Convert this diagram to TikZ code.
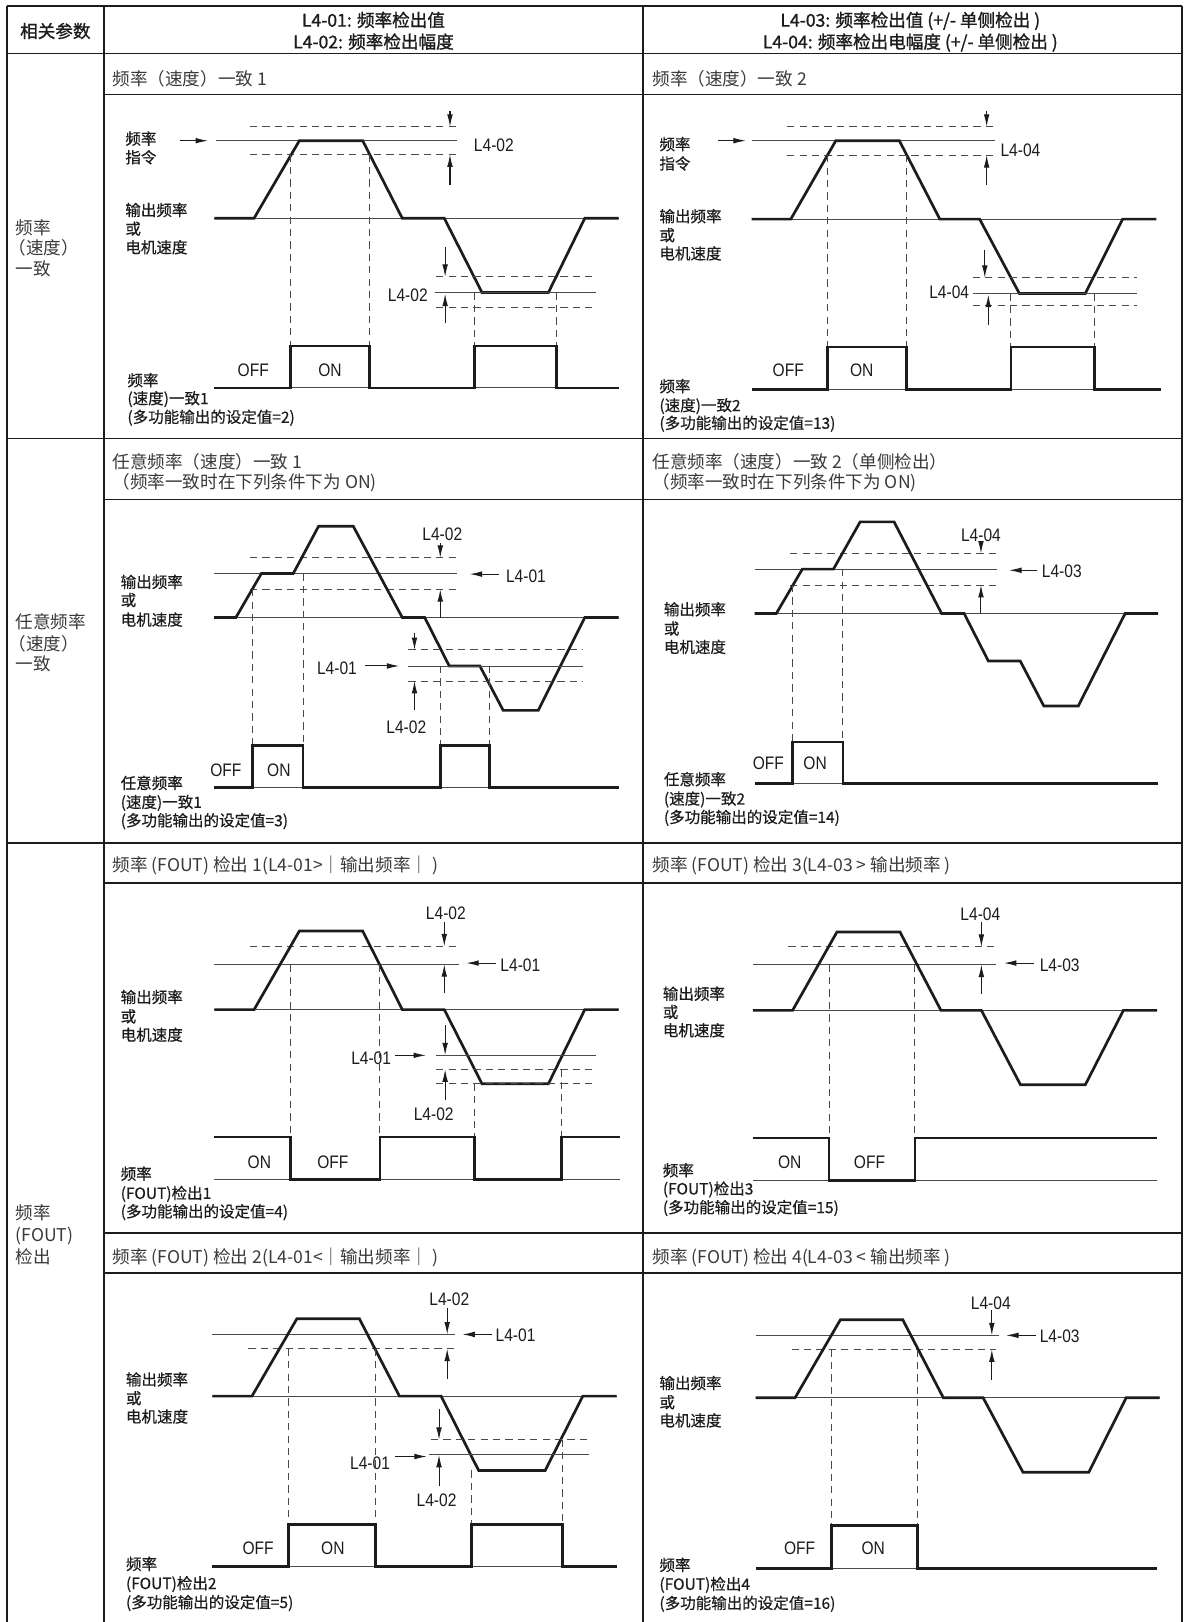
\documentclass[tikz,border=0pt]{standalone}
\usepackage{fontspec}
\setmainfont{Liberation Sans}
\newfontfamily\cjk{Noto Sans CJK SC}
\newfontfamily\cjkm[FakeBold=0.5]{Noto Sans CJK SC}
\newfontfamily\cjkb[FakeBold=1.2]{Noto Sans CJK SC}
\newfontfamily\latn[FakeStretch=0.86]{Liberation Sans}
\usetikzlibrary{arrows.meta}
\definecolor{ink}{HTML}{1C1C1C}
\definecolor{grayline}{HTML}{4A4A4A}
\definecolor{ttlgray}{HTML}{3A3A3A}
\tikzset{
  tbl/.style={line width=1.3pt, draw=ink},
  bord/.style={line width=2.2pt, draw=ink},
  trace/.style={line width=2.6pt, draw=ink, line join=miter},
  thinl/.style={line width=0.9pt, draw=grayline},
  dsh/.style={line width=0.9pt, draw=grayline, dash pattern=on 7pt off 5pt},
  arr/.style={-{Latex[length=12pt,width=5.5pt]}, line width=1pt, draw=ink},
  cl/.style={font={\cjkm\fontsize{15}{18}\selectfont}, inner sep=0pt, text height=11.4pt, text depth=0pt, text=ink, anchor=west},
  lt/.style={font={\latn\fontsize{17.5}{20}\selectfont}, inner sep=0pt, text height=12.5pt, text depth=0pt, text=ink},
  ttl/.style={font={\cjk\fontsize{17}{20}\selectfont}, inner sep=0pt, text height=12.9pt, text depth=0pt, text=ttlgray, anchor=west},
  hdr/.style={font={\cjkb\fontsize{17}{20}\selectfont}, inner sep=0pt, text height=12.9pt, text depth=0pt, text=ink}
}
\begin{document}
\begin{tikzpicture}[x=1pt,y=-1pt]
\fill[white] (0,0) rectangle (1144,1568);
\useasboundingbox (0,0) rectangle (1144,1568);
% ---------------- table ----------------
\draw[bord] (6.5,5.8) -- (6.5,1568);
\draw[bord] (1142.4,5.8) -- (1142.4,1568);
\draw[tbl] (6.5,5.8) -- (1142.4,5.8);
\draw[tbl] (100.6,5.8) -- (100.6,1568);
\draw[tbl] (621.6,5.8) -- (621.6,1568);
\draw[tbl] (6.5,51.6) -- (1142.4,51.6);
\draw[tbl] (6.5,423.9) -- (1142.4,423.9);
\draw[tbl] (6.5,815) -- (1142.4,815);
\draw[tbl] (100.6,91.2) -- (1142.4,91.2);
\draw[tbl] (100.6,482.6) -- (1142.4,482.6);
\draw[tbl] (100.6,853.6) -- (1142.4,853.6);
\draw[tbl] (100.6,1192) -- (1142.4,1192);
\draw[tbl] (100.6,1230.7) -- (1142.4,1230.7);
% header
\node[hdr] (h0) at (53.5,30) {相关参数};
\node[hdr] (h1a) at (361,19.3) {L4-01: 频率检出值};
\node[hdr] (h1b) at (361,40.3) {L4-02: 频率检出幅度};
\node[hdr] (h2a) at (880,19.3) {L4-03: 频率检出值 (+/- 单侧检出 )};
\node[hdr] (h2b) at (880,40.3) {L4-04: 频率检出电幅度 (+/- 单侧检出 )};
% left column
\node[ttl] (l1a) at (15,220) {频率};
\node[ttl] (l1b) at (8,240) {（速度）};
\node[ttl] (l1c) at (15,259.5) {一致};
\node[ttl] (l2a) at (15,601) {任意频率};
\node[ttl] (l2b) at (8,622) {（速度）};
\node[ttl] (l2c) at (15,641.5) {一致};
\node[ttl] (l3a) at (15,1172) {频率};
\node[ttl] (l3b) at (15,1194) {(FOUT)};
\node[ttl] (l3c) at (15,1215) {检出};
% titles
\node[ttl] (t1l) at (108.6,76) {频率（速度）一致 1};
\node[ttl] (t1r) at (630.5,76) {频率（速度）一致 2};
\node[ttl] (t2la) at (108.6,446.4) {任意频率（速度）一致 1};
\node[ttl] (t2lb) at (108.6,465.5) {（频率一致时在下列条件下为 ON)};
\node[ttl] (t2ra) at (630.5,446.4) {任意频率（速度）一致 2（单侧检出）};
\node[ttl] (t2rb) at (630.5,465.5) {（频率一致时在下列条件下为 ON)};
\node[ttl] (t3l) at (108.6,836.5) {频率 (FOUT) 检出 1(L4-01>｜输出频率｜ )};
\node[ttl] (t3r) at (630.5,836.5) {频率 (FOUT) 检出 3(L4-03 > 输出频率 )};
\node[ttl] (t4l) at (108.6,1214.5) {频率 (FOUT) 检出 2(L4-01<｜输出频率｜ )};
\node[ttl] (t4r) at (630.5,1214.5) {频率 (FOUT) 检出 4(L4-03 < 输出频率 )};

% ================= Panel A =================
\node[cl] (a1) at (121,134) {频率};
\node[cl] (a2) at (121,152) {指令};
\node[cl] (a3) at (121,203) {输出频率};
\node[cl] (a4) at (121,221) {或};
\node[cl] (a5) at (121,239) {电机速度};
\node[cl] (a6) at (123,367.5) {频率};
\node[cl] (a7) at (123,385) {(速度)一致1};
\node[cl] (a8) at (123,403) {(多功能输出的设定值=2)};
\draw[arr] (173.7,136) -- (201,136);
\draw[thinl] (208.4,136) -- (442,136);
\draw[dsh] (241.6,122.5) -- (441.4,122.5);
\draw[dsh] (241.6,149.3) -- (441.4,149.3);
\draw[thinl] (207.3,211) -- (598,211);
\draw[trace] (207.3,211) -- (245.6,211) -- (289.4,136) -- (350.6,136) -- (388.9,211) -- (429.5,211) -- (465.9,282.7) -- (530.2,282.7) -- (565.3,211) -- (598,211);
\draw[arr] (435,107) -- (435,122.5);
\draw[arr] (435,179) -- (435,149.3);
\node[lt,anchor=west] (a9) at (458,140) {L4-02};
\draw[thinl] (420.5,282.7) -- (576.4,282.7);
\draw[dsh] (421.6,267.6) -- (576.4,267.6);
\draw[dsh] (421.6,297.2) -- (576.4,297.2);
\draw[arr] (430.3,238.6) -- (430.3,267.6);
\draw[arr] (430.3,312.7) -- (430.3,284);
\node[lt,anchor=east] (a10) at (413.7,285.3) {L4-02};
\draw[dsh] (281,149.3) -- (281,334.6);
\draw[dsh] (357.3,149.3) -- (357.3,334.6);
\draw[dsh] (458.7,282.7) -- (458.7,334.6);
\draw[dsh] (537.7,282.7) -- (537.7,334.6);
\draw[thinl] (207.3,375) -- (598,375);
\draw[trace] (207.3,375) -- (281,375) -- (281,334.6) -- (357.3,334.6) -- (357.3,375) -- (458.7,375) -- (458.7,334.6) -- (537.7,334.6) -- (537.7,375) -- (598,375);
\node[lt] (a11) at (244.8,357.8) {OFF};
\node[lt] (a12) at (319,357.8) {ON};

% ================= Panel B =================
\node[cl] (b1) at (637.3,139.3) {频率};
\node[cl] (b2) at (637.3,158) {指令};
\node[cl] (b3) at (637.3,209) {输出频率};
\node[cl] (b4) at (637.3,227.3) {或};
\node[cl] (b5) at (637.3,245) {电机速度};
\node[cl] (b6) at (637.3,373.3) {频率};
\node[cl] (b7) at (637.3,391.7) {(速度)一致2};
\node[cl] (b8) at (637.3,408.8) {(多功能输出的设定值=13)};
\draw[arr] (694.5,136) -- (721,136);
\draw[thinl] (726.7,136) -- (962,136);
\draw[dsh] (761,122.5) -- (960,122.5);
\draw[dsh] (761,150) -- (960,150);
\draw[thinl] (726.7,211.8) -- (1117.9,211.8);
\draw[trace] (726.7,211.8) -- (764.5,211.8) -- (808,136) -- (869.4,136) -- (908.5,211.8) -- (947,211.8) -- (985.4,283.7) -- (1049.2,283.7) -- (1085.3,211.8) -- (1117.9,211.8);
\draw[arr] (953.8,107) -- (953.8,122.5);
\draw[arr] (953.8,179) -- (953.8,150);
\node[lt,anchor=west] (b9) at (967,145) {L4-04};
\draw[thinl] (940.3,283.7) -- (1099.4,283.7);
\draw[dsh] (940.3,268.5) -- (1099.4,268.5);
\draw[dsh] (940.3,295.6) -- (1099.4,295.6);
\draw[arr] (952,241.8) -- (952,268.5);
\draw[arr] (955.4,314.3) -- (955.4,285);
\node[lt,anchor=east] (b10) at (937,282) {L4-04};
\draw[dsh] (799.7,150) -- (799.7,335.3);
\draw[dsh] (876,150) -- (876,335.3);
\draw[dsh] (977.2,283.7) -- (977.2,335.3);
\draw[dsh] (1058.2,283.7) -- (1058.2,335.3);
\draw[thinl] (726.7,376.2) -- (1122.7,376.2);
\draw[trace] (726.7,376.2) -- (799.7,376.2) -- (799.7,335.3) -- (876,335.3) -- (876,376.2) -- (977.2,376.2) -- (977.2,335.3) -- (1058.2,335.3) -- (1058.2,376.2) -- (1122.7,376.2);
\node[lt] (b11) at (762,357.8) {OFF};
\node[lt] (b12) at (833,357.8) {ON};

% ================= Panel C =================
\node[cl] (c1) at (116.5,562.5) {输出频率};
\node[cl] (c2) at (116.5,580) {或};
\node[cl] (c3) at (116.5,599) {电机速度};
\node[cl] (c4) at (116.5,756.9) {任意频率};
\node[cl] (c5) at (116.5,775.3) {(速度)一致1};
\node[cl] (c6) at (116.5,793) {(多功能输出的设定值=3)};
\draw[thinl] (207,554.4) -- (442,554.4);
\draw[dsh] (241.6,539.3) -- (441,539.3);
\draw[dsh] (241.6,569.6) -- (441,569.6);
\draw[thinl] (207,597) -- (598,597);
\draw[trace] (207,597) -- (228,597) -- (252.7,554.4) -- (283.5,554.4) -- (308,508.7) -- (341.5,508.7) -- (388.9,597) -- (410.6,597) -- (434.3,643.8) -- (463.9,643.8) -- (486.4,686.7) -- (520.3,686.7) -- (565.3,597) -- (598,597);
\node[lt] (c7) at (427.6,516.4) {L4-02};
\draw[arr] (425.6,525) -- (425.6,539.3);
\draw[arr] (425.6,597) -- (425.6,569.6);
\node[lt,anchor=west] (c8) at (489,556.7) {L4-01};
\draw[arr] (482,555) -- (454,555);
\draw[thinl] (394.8,643.8) -- (563.8,643.8);
\draw[dsh] (394.8,628.3) -- (563.8,628.3);
\draw[dsh] (394.8,658.3) -- (563.8,658.3);
\draw[arr] (400.7,612) -- (400.7,628.3);
\draw[arr] (400.7,686.7) -- (400.7,658.3);
\node[lt] (c9) at (325.7,645.4) {L4-01};
\draw[arr] (353.3,643.8) -- (386,643.8);
\node[lt] (c10) at (392.8,702.6) {L4-02};
\draw[dsh] (244,569.6) -- (244,720.5);
\draw[dsh] (293,554.4) -- (293,720.5);
\draw[dsh] (425.6,643.8) -- (425.6,720.5);
\draw[dsh] (473,643.8) -- (473,720.5);
\draw[thinl] (207,761.4) -- (598,761.4);
\draw[trace] (207,761.4) -- (244,761.4) -- (244,720.5) -- (293,720.5) -- (293,761.4) -- (425.6,761.4) -- (425.6,720.5) -- (473,720.5) -- (473,761.4) -- (598,761.4);
\node[lt] (c11) at (218.3,744.7) {OFF};
\node[lt] (c12) at (269.6,744.7) {ON};

% ================= Panel D =================
\node[cl] (d1) at (641.6,589) {输出频率};
\node[cl] (d2) at (641.6,607.6) {或};
\node[cl] (d3) at (641.6,625.4) {电机速度};
\node[cl] (d4) at (641.6,753.3) {任意频率};
\node[cl] (d5) at (641.6,772) {(速度)一致2};
\node[cl] (d6) at (641.6,789.8) {(多功能输出的设定值=14)};
\draw[thinl] (729.4,550.2) -- (963.7,550.2);
\draw[dsh] (763.8,535) -- (963.7,535);
\draw[dsh] (763.8,565.5) -- (963.7,565.5);
\draw[thinl] (729.4,593) -- (1119.5,593);
\draw[trace] (729.4,593) -- (750.5,593) -- (775.6,550.2) -- (805.7,550.2) -- (831.5,504.5) -- (864.3,504.5) -- (910.2,593) -- (932,593) -- (955.4,638.9) -- (986.2,638.9) -- (1009,682.4) -- (1042.4,682.4) -- (1087.7,593) -- (1119.5,593);
\node[lt] (d7) at (948.3,517.4) {L4-04};
\draw[arr] (948.3,523) -- (948.3,535);
\draw[arr] (948.3,593) -- (948.3,565.5);
\node[lt,anchor=west] (d8) at (1007,552) {L4-03};
\draw[arr] (1002.6,551.3) -- (975.5,551.3);
\draw[dsh] (766.2,565.5) -- (766.2,717.2);
\draw[dsh] (814.8,550.2) -- (814.8,717.2);
\draw[thinl] (729.4,757.5) -- (1119.5,757.5);
\draw[trace] (729.4,757.5) -- (766.2,757.5) -- (766.2,717.2) -- (814.8,717.2) -- (814.8,757.5) -- (1119.5,757.5);
\node[lt] (d11) at (742.8,737.2) {OFF};
\node[lt] (d12) at (788,737.2) {ON};

% ================= Panel E =================
\node[cl] (e1) at (116.5,963.8) {输出频率};
\node[cl] (e2) at (116.5,982.5) {或};
\node[cl] (e3) at (116.5,1000.3) {电机速度};
\node[cl] (e4) at (116.5,1134.6) {频率};
\node[cl] (e5) at (116.5,1153.3) {(FOUT)检出1};
\node[cl] (e6) at (116.5,1171) {(多功能输出的设定值=4)};
\draw[thinl] (207.3,932.2) -- (444,932.2);
\draw[dsh] (241.6,914.8) -- (442,914.8);
\draw[thinl] (207.3,976) -- (598,976);
\draw[trace] (207.3,976) -- (245.6,976) -- (289.4,900) -- (350.6,900) -- (388.9,976) -- (429.5,976) -- (465.9,1047.6) -- (530.2,1047.6) -- (565.3,976) -- (598,976);
\node[lt] (e7) at (431,882.6) {L4-02};
\draw[arr] (429.5,891.5) -- (429.5,914.8);
\draw[arr] (429.5,960) -- (429.5,932.2);
\node[lt,anchor=west] (e8) at (483.6,933.2) {L4-01};
\draw[arr] (479.7,931) -- (450.8,931);
\draw[thinl] (421.6,1020.2) -- (576.4,1020.2);
\draw[dsh] (421.6,1033.8) -- (576.4,1033.8);
\draw[dsh] (421.6,1047.6) -- (576.4,1047.6);
\draw[arr] (430.3,991.2) -- (430.3,1020.2);
\draw[arr] (430.3,1063.1) -- (430.3,1033.8);
\node[lt] (e9) at (358.8,1022.4) {L4-01};
\draw[arr] (382.2,1020.2) -- (411.8,1020.2);
\node[lt] (e10) at (419.3,1076.6) {L4-02};
\draw[dsh] (281,932.2) -- (281,1099.2);
\draw[dsh] (367.2,932.2) -- (367.2,1099.2);
\draw[dsh] (458.7,1047.6) -- (458.7,1099.2);
\draw[dsh] (542.8,1033.8) -- (542.8,1099.2);
\draw[thinl] (207.3,1140.4) -- (599.3,1140.4);
\draw[trace] (207.3,1099.2) -- (281,1099.2) -- (281,1140.4) -- (367.2,1140.4) -- (367.2,1099.2) -- (458.7,1099.2) -- (458.7,1140.4) -- (542.8,1140.4) -- (542.8,1099.2) -- (599.3,1099.2);
\node[lt] (e11) at (250.7,1123.4) {ON};
\node[lt] (e12) at (321.8,1123.4) {OFF};

% ================= Panel F =================
\node[cl] (f1) at (640.6,960.6) {输出频率};
\node[cl] (f2) at (640.6,978.3) {或};
\node[cl] (f3) at (640.6,996) {电机速度};
\node[cl] (f4) at (640.6,1131.3) {频率};
\node[cl] (f5) at (640.6,1149) {(FOUT)检出3};
\node[cl] (f6) at (640.6,1167) {(多功能输出的设定值=15)};
\draw[thinl] (727.7,932.5) -- (963.2,932.5);
\draw[dsh] (762.2,915.3) -- (961,915.3);
\draw[thinl] (727.7,976.7) -- (1118.5,976.7);
\draw[trace] (727.7,976.7) -- (766.2,976.7) -- (809.1,900.9) -- (870,900.9) -- (909.6,976.7) -- (948.7,976.7) -- (986.5,1048.6) -- (1049.2,1048.6) -- (1086,976.7) -- (1118.5,976.7);
\node[lt] (f7) at (947.7,883.9) {L4-04};
\draw[arr] (948.7,891.5) -- (948.7,915.3);
\draw[arr] (948.7,960.6) -- (948.7,932.5);
\node[lt,anchor=west] (f8) at (1005,933) {L4-03};
\draw[arr] (999.3,931) -- (970.5,931);
\draw[dsh] (801.4,932.5) -- (801.4,1100.2);
\draw[dsh] (884.4,932.5) -- (884.4,1100.2);
\draw[thinl] (727.7,1141) -- (1118.5,1141);
\draw[trace] (727.7,1100.2) -- (801.4,1100.2) -- (801.4,1141) -- (884.4,1141) -- (884.4,1100.2) -- (1118.5,1100.2);
\node[lt] (f11) at (763.5,1123.4) {ON};
\node[lt] (f12) at (840.5,1123.4) {OFF};

% ================= Panel G =================
\node[cl] (g1) at (121.6,1333.5) {输出频率};
\node[cl] (g2) at (121.6,1351.6) {或};
\node[cl] (g3) at (121.6,1369.4) {电机速度};
\node[cl] (g4) at (121.6,1511.8) {频率};
\node[cl] (g5) at (121.6,1530.5) {(FOUT)检出2};
\node[cl] (g6) at (121.6,1548.8) {(多功能输出的设定值=5)};
\draw[thinl] (205.3,1290) -- (440.2,1290);
\draw[dsh] (240,1303.8) -- (439,1303.8);
\draw[thinl] (205.3,1349.6) -- (596.1,1349.6);
\draw[trace] (205.3,1349.6) -- (243.6,1349.6) -- (287,1274.8) -- (347.4,1274.8) -- (386.1,1349.6) -- (426.4,1349.6) -- (462.7,1421.5) -- (527,1421.5) -- (563.4,1349.6) -- (596.1,1349.6);
\node[lt] (g7) at (434.3,1255.5) {L4-02};
\draw[arr] (432.3,1264.2) -- (432.3,1290);
\draw[arr] (432.3,1332.9) -- (432.3,1303.8);
\node[lt,anchor=west] (g8) at (478.9,1290.9) {L4-01};
\draw[arr] (475.8,1290) -- (447,1290);
\draw[dsh] (416.5,1391.8) -- (569.3,1391.8);
\draw[thinl] (415,1406.4) -- (569.3,1406.4);
\draw[arr] (424.4,1361.9) -- (424.4,1391.8);
\draw[arr] (424.4,1436.9) -- (424.4,1406.4);
\node[lt] (g9) at (357.7,1414.1) {L4-01};
\draw[arr] (382.2,1408) -- (412.6,1408);
\node[lt] (g10) at (422,1450.5) {L4-02};
\draw[dsh] (278.7,1303.8) -- (278.7,1473.5);
\draw[dsh] (363.2,1303.8) -- (363.2,1473.5);
\draw[dsh] (456,1421.5) -- (456,1473.5);
\draw[dsh] (543.6,1391.8) -- (543.6,1473.5);
\draw[thinl] (205.3,1514) -- (596.1,1514);
\draw[trace] (205.3,1514) -- (278.7,1514) -- (278.7,1473.5) -- (363.2,1473.5) -- (363.2,1514) -- (456,1514) -- (456,1473.5) -- (543.6,1473.5) -- (543.6,1514) -- (596.1,1514);
\node[lt] (g11) at (249.5,1496.3) {OFF};
\node[lt] (g12) at (321.8,1496.3) {ON};

% ================= Panel H =================
\node[cl] (k1) at (637.3,1337) {输出频率};
\node[cl] (k2) at (637.3,1355.5) {或};
\node[cl] (k3) at (637.3,1373.1) {电机速度};
\node[cl] (k4) at (637.3,1512.8) {频率};
\node[cl] (k5) at (637.3,1531.2) {(FOUT)检出4};
\node[cl] (k6) at (637.3,1549.6) {(多功能输出的设定值=16)};
\draw[thinl] (730.4,1290.9) -- (965.5,1290.9);
\draw[dsh] (765.2,1304.6) -- (963,1304.6);
\draw[thinl] (730.4,1351.2) -- (1121.1,1351.2);
\draw[trace] (730.4,1351.2) -- (768.6,1351.2) -- (812.4,1275.8) -- (872.7,1275.8) -- (911.9,1351.2) -- (950.4,1351.2) -- (988.9,1423.2) -- (1052.5,1423.2) -- (1088.7,1351.2) -- (1121.1,1351.2);
\node[lt] (k7) at (957.8,1259.7) {L4-04};
\draw[arr] (958.8,1266.7) -- (958.8,1290.9);
\draw[arr] (958.8,1334.5) -- (958.8,1304.6);
\node[lt,anchor=west] (k8) at (1005,1292) {L4-03};
\draw[arr] (1001.9,1290.9) -- (972.6,1290.9);
\draw[dsh] (804.1,1304.6) -- (804.1,1474.7);
\draw[dsh] (887.1,1304.6) -- (887.1,1474.7);
\draw[thinl] (730.4,1516) -- (1118.2,1516);
\draw[trace] (730.4,1516) -- (804.1,1516) -- (804.1,1474.7) -- (887.1,1474.7) -- (887.1,1516) -- (1118.2,1516);
\node[lt] (k11) at (773,1496.3) {OFF};
\node[lt] (k12) at (844.2,1496.3) {ON};
\end{tikzpicture}
\end{document}
